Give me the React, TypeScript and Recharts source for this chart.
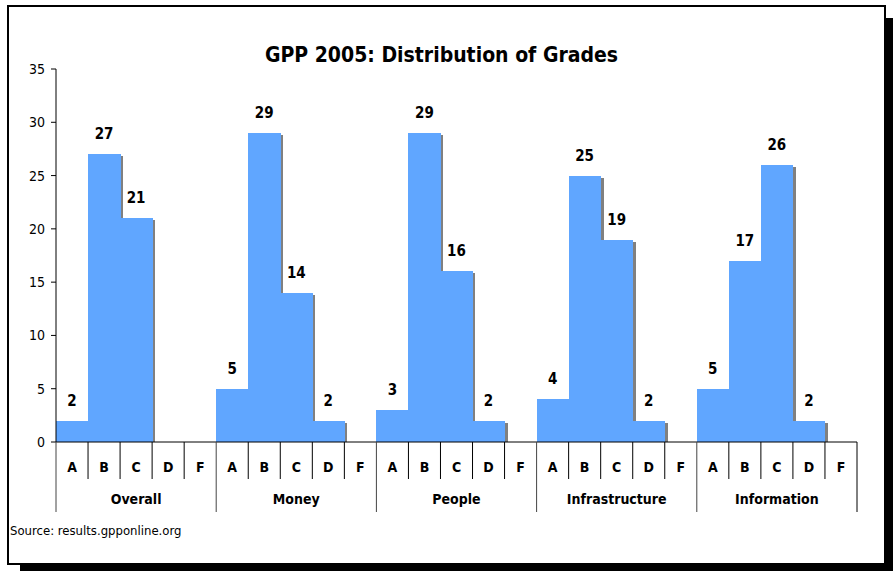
import { BarChart, Bar, XAxis, YAxis, LabelList } from 'recharts';

const groups = ['Overall', 'Money', 'People', 'Infrastructure', 'Information'];
const grades = ['A', 'B', 'C', 'D', 'F'];
const overall = [2, 27, 21, 0, 0];
const money = [5, 29, 14, 2, 0];
const people = [3, 29, 16, 2, 0];
const infrastructure = [4, 25, 19, 2, 0];
const information = [5, 17, 26, 2, 0];
const yTicks = [0, 5, 10, 15, 20, 25, 30, 35];

const seriesByGroup = [overall, money, people, infrastructure, information];

const data = groups.flatMap((g, gi) =>
  grades.map((grade, i) => ({
    key: `${g}-${grade}`,
    group: g,
    grade,
    count: seriesByGroup[gi][i],
  }))
);

const FONT = '"DejaVu Sans Condensed", "DejaVu Sans", sans-serif';
const BLUE = '#60a6ff';

function ShadowBar(props: any) {
  const { x, y, width, height } = props;
  if (!height || height <= 0) return null;
  return (
    <g shapeRendering='crispEdges'>
      <rect x={x + width} y={y + 2} width={3} height={height - 2} fill='#808080' />
      <rect x={x} y={y} width={width + 0.5} height={height} fill={BLUE} />
    </g>
  );
}

function CountLabel(props: any) {
  const { x, y, width, value } = props;
  if (!value) return null;
  return (
    <text
      x={x + width / 2}
      y={y - 15}
      textAnchor='middle'
      fontFamily={FONT}
      fontWeight='bold'
      fontSize={15}
      fill='#000'
    >
      {value}
    </text>
  );
}

function GradeTick(props: any) {
  const { x, y, payload, index } = props;
  const half = payload.offset || 16;
  const left = x - half;
  const right = x + half;
  const isGroupStart = index % 5 === 0;
  const isLast = index === data.length - 1;
  const row = data[index];
  return (
    <g>
      <line
        x1={left}
        y1={y}
        x2={left}
        y2={y + (isGroupStart ? 70 : 37)}
        stroke={isGroupStart ? '#444' : '#000'}
      />
      {isLast && <line x1={right} y1={y} x2={right} y2={y + 70} stroke='#000' />}
      <text
        x={x}
        y={y + 30}
        textAnchor='middle'
        fontFamily={FONT}
        fontWeight='bold'
        fontSize={14}
        fill='#000'
      >
        {row ? row.grade : ''}
      </text>
      {index % 5 === 2 && row && (
        <text
          x={x}
          y={y + 62}
          textAnchor='middle'
          fontFamily={FONT}
          fontWeight='bold'
          fontSize={14}
          fill='#000'
        >
          {row.group}
        </text>
      )}
    </g>
  );
}

export default function App() {
  return (
    <div
      style={{
        position: 'absolute',
        left: 0,
        top: 0,
        width: 893,
        height: 571,
        overflow: 'hidden',
        background: '#fff',
      }}
    >
      <div
        style={{
          position: 'absolute',
          left: 7,
          top: 5,
          width: 875,
          height: 556,
          border: '2px solid #000',
          background: '#fff',
          boxShadow: '13px 13px 0 #000',
        }}
      />
      <div
        style={{
          position: 'absolute',
          left: 0,
          top: 43,
          width: 883,
          textAlign: 'center',
          fontFamily: FONT,
          fontWeight: 'bold',
          fontSize: 21,
          color: '#000',
        }}
      >
        GPP 2005: Distribution of Grades
      </div>
      <div
        style={{
          position: 'absolute',
          left: 10,
          top: 523,
          fontFamily: FONT,
          fontSize: 13,
          color: '#000',
        }}
      >
        Source: results.gpponline.org
      </div>
      <div style={{ position: 'absolute', left: 0, top: 0 }}>
        <BarChart
          width={893}
          height={571}
          data={data}
          margin={{ top: 69, right: 36, bottom: 59, left: 8 }}
          barCategoryGap={0}
        >
          <XAxis
            dataKey='key'
            interval={0}
            tickLine={false}
            tickSize={0}
            tickMargin={0}
            height={70}
            axisLine={{ stroke: '#000' }}
            tick={<GradeTick />}
          />
          <YAxis
            width={48}
            domain={[0, 35]}
            ticks={yTicks}
            interval={0}
            tickSize={5}
            tickMargin={6}
            axisLine={{ stroke: '#000' }}
            tickLine={{ stroke: '#000' }}
            tick={{ fill: '#000', fontFamily: FONT, fontSize: 14 }}
          />
          <Bar dataKey='count' shape={<ShadowBar />} isAnimationActive={false}>
            <LabelList dataKey='count' content={<CountLabel />} />
          </Bar>
        </BarChart>
      </div>
    </div>
  );
}
